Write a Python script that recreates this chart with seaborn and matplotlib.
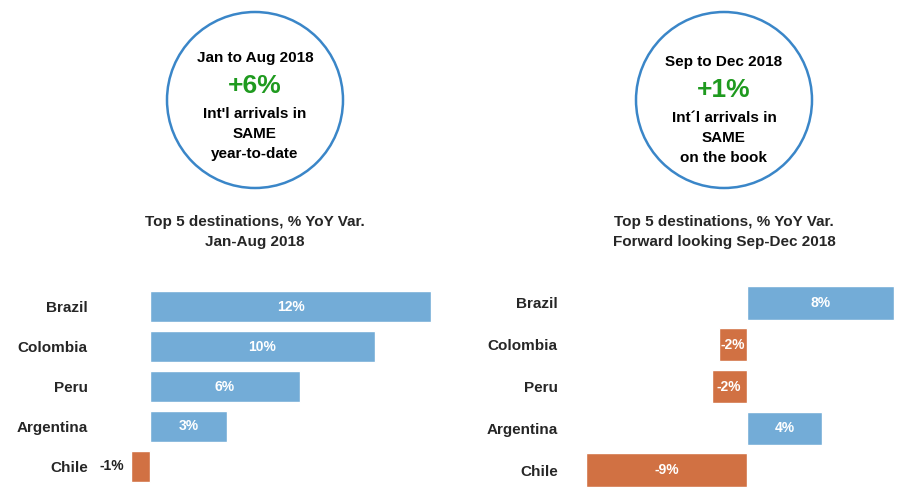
import matplotlib
matplotlib.use("Agg")
import matplotlib.pyplot as plt
import seaborn as sns
from matplotlib.patches import Ellipse

sns.set_style("white")
plt.rcParams["font.family"] = ["Liberation Sans", "DejaVu Sans"]

countries = ["Brazil", "Colombia", "Peru", "Argentina", "Chile"]
ytd_values = [12, 9.6, 6.4, 3.3, -0.8]
ytd_labels = ["12%", "10%", "6%", "3%", "-1%"]
fwd_values = [8, -1.5, -1.9, 4.1, -8.7]
fwd_labels = ["8%", "-2%", "-2%", "4%", "-9%"]

BLUE = "#62aee8"
ORANGE = "#e8692c"
W, H = 900, 490


def px_axes(fig, x0, y0, x1, y1):
    return fig.add_axes([x0 / W, 1 - y1 / H, (x1 - x0) / W, (y1 - y0) / H])


def bar_panel(ax, values, labels, xlim, width, inside_neg):
    colors = [BLUE if v >= 0 else ORANGE for v in values]
    sns.barplot(x=values, y=countries, hue=countries, palette=colors,
                legend=False, width=width, orient="h", ax=ax)
    ax.set_xlim(*xlim)
    ax.set_xticks([])
    ax.set_xlabel("")
    ax.set_ylabel("")
    sns.despine(ax=ax, left=True, bottom=True)
    ax.tick_params(axis="y", length=0, pad=6)
    for t in ax.get_yticklabels():
        t.set_fontweight("bold")
        t.set_fontsize(11)
    for i, (v, lab) in enumerate(zip(values, labels)):
        if v < 0 and not inside_neg:
            ax.text(v - 0.3, i, lab, ha="right", va="center",
                    fontsize=10, fontweight="bold", color="#222222")
        else:
            ax.text(v / 2, i, lab, ha="center", va="center",
                    fontsize=10, fontweight="bold", color="white")


def circle(fig, cx, cy, r, lines):
    ax = fig.add_axes([0, 0, 1, 1], zorder=-1)
    ax.set_xlim(0, W)
    ax.set_ylim(H, 0)
    ax.axis("off")
    ax.add_patch(Ellipse((cx, cy), 2 * r, 2 * r, fill=False,
                         edgecolor="#3a86c8", lw=1.8))
    for (text, y, size, color) in lines:
        ax.text(cx, y, text, ha="center", va="center", fontsize=size,
                fontweight="bold", color=color)


fig = plt.figure(figsize=(9, 4.9), dpi=100)

circle(fig, 255, 100, 88, [
    ("Jan to Aug 2018", 58, 11, "black"),
    ("+6%", 86, 19, "#1f9a1f"),
    ("Int'l arrivals in", 114, 11, "black"),
    ("SAME", 134, 11, "black"),
    ("year-to-date", 154, 11, "black"),
])
circle(fig, 724, 100, 88, [
    ("Sep to Dec 2018", 62, 11, "black"),
    ("+1%", 90, 19, "#1f9a1f"),
    ("Int´l arrivals in", 118, 11, "black"),
    ("SAME", 138, 11, "black"),
    ("on the book", 158, 11, "black"),
])

fig.text(255 / W, 1 - 232 / H, "Top 5 destinations, % YoY Var.\nJan-Aug 2018",
         ha="center", va="center", fontsize=11, fontweight="bold",
         linespacing=1.5)
fig.text(724 / W, 1 - 232 / H,
         "Top 5 destinations, % YoY Var.\nForward looking Sep-Dec 2018",
         ha="center", va="center", fontsize=11, fontweight="bold",
         linespacing=1.5)

ax1 = px_axes(fig, 96, 287, 436, 486)
bar_panel(ax1, ytd_values, ytd_labels, (-2.3, 12.2), 0.78, False)

ax2 = px_axes(fig, 566, 282, 896, 491)
bar_panel(ax2, fwd_values, fwd_labels, (-9.8, 8.1), 0.8, True)

fig.savefig("out.png", dpi=100)
